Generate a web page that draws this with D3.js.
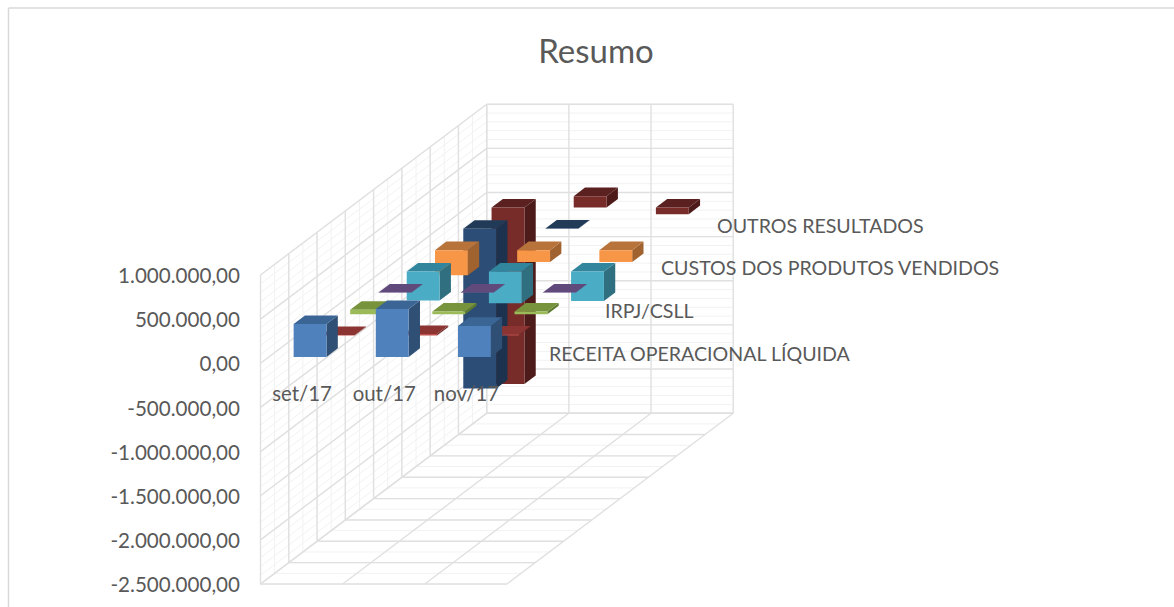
<!DOCTYPE html>
<html>
<head>
<meta charset="utf-8">
<script src="https://cdn.jsdelivr.net/npm/d3@7"></script>
<style>
html, body { margin: 0; padding: 0; background: #fff; }
svg { display: block; }
text { font-family: Lato, "Open Sans", sans-serif; fill: #595959; }
</style>
</head>
<body>
<svg id="chart" width="1174" height="607"></svg>
<script>
var categories = ['set/17', 'out/17', 'nov/17'];
var seriesLabels = ['RECEITA OPERACIONAL LÍQUIDA', '', 'IRPJ/CSLL', '', 'CUSTOS DOS PRODUTOS VENDIDOS', '', 'OUTROS RESULTADOS', ''];
var yTicks = [1000000, 500000, 0, -500000, -1000000, -1500000, -2000000, -2500000];

// one array per series, front to back, set/out/nov
var receita = [373000, 543000, 351000];
var serie2 = [5000, 18000, 12000];
var irpj = [50000, 30000, 30000];
var serie4 = [3000, 3000, 3000];
var custos = [-330000, -360000, -335000];
var serie6 = [-285000, -135000, -135000];
var outros = [-1810000, 3000, null];
var serie8 = [-2000000, 128000, -76000];
var values = [receita, serie2, irpj, serie4, custos, serie6, outros, serie8];

// front, top, side
var colors = [
	['#4f81bd', '#3a6595', '#2f4f75'],
	['#c0504d', '#8c3431', '#6e2a28'],
	['#9bbb59', '#77933c', '#5f7a30'],
	['#8064a2', '#604a7b', '#4d3b63'],
	['#4bacc6', '#31859c', '#2f6f80'],
	['#f79646', '#b8733a', '#a0622e'],
	['#2c4d75', '#203a58', '#1c324e'],
	['#772c2a', '#5a2120', '#4d1b1a']
];

var svg = d3.select('#chart');

var x0 = 260.5, floorY = 584, wallW = 246.5, depthX = 226.2, depthY = 170.8;

var x = d3.scaleBand().domain(d3.range(categories.length)).range([0, wallW]).paddingInner(0.6).paddingOuter(0.3);
var z = d3.scaleBand().domain(d3.range(values.length)).range([0, 1]).paddingInner(0.6).paddingOuter(0.3);
var y = d3.scaleLinear().domain([-2500000, 1000000]).range([floorY, 275]);

var locale = d3.formatLocale({decimal: ',', thousands: '.', grouping: [3], currency: ['', ''], minus: '-'});
var fmt = locale.format(',.2f');

// oblique projection: a = across, v = value, d = depth 0..1
function pt(a, v, d) {
	return [x0 + a + d * depthX, y(v) - d * depthY];
}

function poly(points) {
	return 'M' + points.map(function(p) { return p[0] + ',' + p[1]; }).join('L') + 'Z';
}

function gridLine(g, a, b, color, w) {
	g.append('line')
		.attr('x1', a[0]).attr('y1', a[1])
		.attr('x2', b[0]).attr('y2', b[1])
		.attr('stroke', color)
		.attr('stroke-width', w);
}

// top and left frame of the chart area
var frame = svg.append('g');
gridLine(frame, [8.5, 8], [1174, 8], '#d9d9d9', 1.5);
gridLine(frame, [8.5, 8], [8.5, 607], '#d9d9d9', 1.5);

var grid = svg.append('g');
var yMin = y.domain()[0], yMax = y.domain()[1];
var minorColor = '#f2f2f2', majorColor = '#e0e0e0';

function drawGrid(color, w, valueStep, depthDiv) {
	d3.range(yMin, yMax + 1, valueStep).forEach(function(v) {
		gridLine(grid, pt(0, v, 1), pt(wallW, v, 1), color, w);
		gridLine(grid, pt(0, v, 0), pt(0, v, 1), color, w);
	});
	d3.range(0, depthDiv + 1).forEach(function(i) {
		var d = i / depthDiv;
		gridLine(grid, pt(0, yMin, d), pt(0, yMax, d), color, w);
		gridLine(grid, pt(0, yMin, d), pt(wallW, yMin, d), color, w);
	});
}
drawGrid(minorColor, 1, 100000, values.length * 2);
drawGrid(majorColor, 1.4, 500000, values.length);
d3.range(0, categories.length + 1).forEach(function(i) {
	var a = i * x.step();
	gridLine(grid, pt(a, yMin, 1), pt(a, yMax, 1), majorColor, 1.4);
	gridLine(grid, pt(a, yMin, 0), pt(a, yMin, 1), majorColor, 1.4);
});

// bars, back series first so the nearer ones cover them
var bars = svg.append('g');
d3.range(values.length - 1, -1, -1).forEach(function(s) {
	values[s].forEach(function(val, c) {
		if (val === null) return;
		var a1 = x(c), a2 = a1 + x.bandwidth();
		var d1 = z(s), d2 = d1 + z.bandwidth();
		var hi = Math.max(val, 0), lo = Math.min(val, 0);
		var g = bars.append('g');
		g.append('path').attr('fill', colors[s][2])
			.attr('d', poly([pt(a2, lo, d1), pt(a2, hi, d1), pt(a2, hi, d2), pt(a2, lo, d2)]));
		g.append('path').attr('fill', colors[s][1])
			.attr('d', poly([pt(a1, hi, d1), pt(a2, hi, d1), pt(a2, hi, d2), pt(a1, hi, d2)]));
		g.append('path').attr('fill', colors[s][0])
			.attr('d', poly([pt(a1, lo, d1), pt(a2, lo, d1), pt(a2, hi, d1), pt(a1, hi, d1)]));
	});
});

// value axis
var axis = svg.append('g')
	.attr('transform', 'translate(240,1)')
	.call(d3.axisLeft(y).tickValues(yTicks).tickFormat(fmt).tickSize(0).tickPadding(0));
axis.select('.domain').remove();
axis.selectAll('text').style('font-size', '20.6px').attr('font-family', null);

// category labels
svg.append('g').selectAll('text')
	.data(categories)
	.enter()
	.append('text')
	.attr('x', function(d, i) { return x0 + x(i) + x.bandwidth() / 2 + 0.5; })
	.attr('y', 394)
	.attr('dy', '.35em')
	.attr('text-anchor', 'middle')
	.style('font-size', '20.4px')
	.text(function(d) { return d; });

// series labels, only every second one is shown
svg.append('g').selectAll('text')
	.data(seriesLabels)
	.enter()
	.append('text')
	.attr('x', function(d, i) { return 549 + i * 28; })
	.attr('y', function(d, i) { return 354 - i * 21.35; })
	.attr('dy', '.35em')
	.style('font-size', '19.6px')
	.text(function(d) { return d; });

svg.append('text')
	.attr('x', 596)
	.attr('y', 51)
	.attr('dy', '.35em')
	.attr('text-anchor', 'middle')
	.style('font-size', '33px')
	.text('Resumo');
</script>
</body>
</html>
